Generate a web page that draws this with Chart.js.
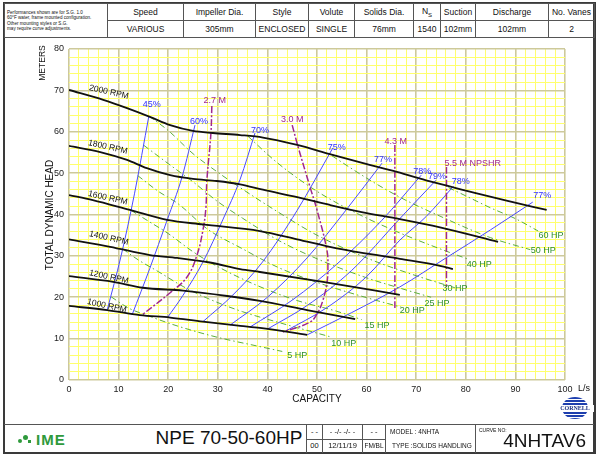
<!DOCTYPE html>
<html>
<head>
<meta charset="utf-8">
<script src="https://cdn.jsdelivr.net/npm/chart.js@4.4.0/dist/chart.umd.min.js"></script>
<style>
  body { margin: 0; width: 600px; height: 457px; position: relative; overflow: hidden; background: #fff;
         font-family: "Liberation Sans", Arial, sans-serif; color: #111; }
  .abs { position: absolute; }
  #frame { left: 3px; top: 2px; width: 593px; height: 452px; box-sizing: border-box;
           border: 2px solid #3a3a3a; border-right-width: 3px; }
  table { border-collapse: collapse; }
  #head { left: 4px; top: 3px; width: 590px; height: 35px; table-layout: fixed; }
  #head td { border: 1px solid #555; text-align: center; font-size: 8.5px; padding: 0; height: 16px; }
  #head td.note { text-align: left; font-size: 4.6px; line-height: 5.2px; padding-left: 2px; vertical-align: middle; }
  #foot { left: 4px; top: 424px; width: 590px; height: 28px; border-top: 1px solid #555; }
  .cell { position: absolute; top: 0; height: 28px; border-left: 1px solid #555; box-sizing: border-box; }
  .half { position: absolute; left: 0; right: 0; height: 14px; font-size: 7.5px; text-align: center; line-height: 14px; }
  #wrap { left: 5px; top: 38px; width: 589px; height: 385px; }
</style>
</head>
<body>
<div id="frame" class="abs"></div>

<table id="head" class="abs">
  <colgroup>
    <col style="width:103px"><col style="width:76px"><col style="width:72px"><col style="width:53px">
    <col style="width:46px"><col style="width:59px"><col style="width:27px"><col style="width:35px">
    <col style="width:73px"><col style="width:46px">
  </colgroup>
  <tr>
    <td class="note" rowspan="2">Performances shown are for S.G. 1.0<br>60°F water, frame mounted configuration.<br>Other mounting styles or S.G.<br>may require curve adjustments.</td>
    <td>Speed</td><td>Impeller Dia.</td><td>Style</td><td>Volute</td><td>Solids Dia.</td>
    <td>N<sub style="font-size:6px">S</sub></td><td>Suction</td><td>Discharge</td><td>No. Vanes</td>
  </tr>
  <tr>
    <td>VARIOUS</td><td>305mm</td><td>ENCLOSED</td><td>SINGLE</td><td>76mm</td>
    <td>1540</td><td>102mm</td><td>102mm</td><td>2</td>
  </tr>
</table>

<div id="wrap" class="abs"><canvas id="pumpChart" width="589" height="385"></canvas></div>

<div class="abs" style="width:60px;height:12px;font-size:8.5px;text-align:center;transform:rotate(-90deg);transform-origin:center;left:13px;top:57px">METERS</div>
<div class="abs" style="left:-20px;top:209px;width:140px;height:12px;font-size:10px;text-align:center;transform:rotate(-90deg)">TOTAL DYNAMIC HEAD</div>
<div class="abs" style="left:267px;top:393px;width:100px;font-size:10px;text-align:center">CAPACITY</div>
<div class="abs" style="left:578px;top:383px;font-size:9px">L/s</div>

<!-- cornell badge -->
<div class="abs" style="left:562px;top:397px;width:26px;height:22px;border-radius:50%;
     background:repeating-linear-gradient(#1e3fae 0 2px,#fff 2px 3px);"></div>
<div class="abs" style="left:556px;top:405px;width:38px;height:7px;background:#fff;font:bold 6px 'Liberation Serif',serif;color:#1a2f80;text-align:center;line-height:7px">CORNELL</div>

<div id="foot" class="abs">
  <div class="abs" style="left:14px;top:6px;width:50px;height:18px">
    <div class="abs" style="left:0;top:8px;width:4px;height:4px;border-radius:50%;background:#2f9a3c"></div>
    <div class="abs" style="left:5px;top:4px;width:5px;height:5px;border-radius:50%;background:#2f9a3c"></div>
    <div class="abs" style="left:10px;top:9px;width:3px;height:3px;background:#2f9a3c"></div>
    <div class="abs" style="left:18px;top:0;font:bold 15px 'Liberation Sans',Arial;color:#2f9a3c;letter-spacing:1px">IME</div>
  </div>
  <div class="abs" style="left:150px;top:2px;width:150px;text-align:center;font-size:19px">NPE 70-50-60HP</div>
  <div class="cell" style="left:302px;width:16px">
    <div class="half" style="top:0;border-bottom:1px solid #555">- -</div><div class="half" style="top:14px">00</div>
  </div>
  <div class="cell" style="left:318px;width:40px">
    <div class="half" style="top:0;border-bottom:1px solid #555">- -/- -/- -</div><div class="half" style="top:14px">12/11/19</div>
  </div>
  <div class="cell" style="left:358px;width:23px">
    <div class="half" style="top:0;border-bottom:1px solid #555">- -</div><div class="half" style="top:14px;font-size:6.5px">FM/BL</div>
  </div>
  <div class="cell" style="left:381px;width:90px">
    <div class="half" style="top:0;text-align:left;padding-left:4px;font-size:6.5px">MODEL : 4NHTA</div>
    <div class="half" style="top:14px;text-align:left;padding-left:6px;font-size:6.5px">TYPE :SOLIDS HANDLING</div>
  </div>
  <div class="cell" style="left:471px;width:119px">
    <div class="abs" style="left:3px;top:2px;font-size:5px">CURVE NO:</div>
    <div class="abs" style="right:8px;top:5px;font-size:19px">4NHTAV6</div>
  </div>
</div>

<script>
// head-capacity curves [L/s, m]
const rpm2000 = [[0,70.1],[6.9,67.7],[11.7,65.7],[16.3,63.6],[20.4,61.6],[25,60.2],[29,59.7],[34.5,59.2],[39.1,58.6],[46,56.8],[52.6,54.6],[59.3,52.4],[66.1,50.3],[72.8,48.0],[80,45.8],[88,43.4],[96.3,41.1]];
const rpm1800 = [[0,56.6],[6.3,55.1],[11.7,53.2],[15.7,51.2],[20.4,49.5],[25,48.6],[29.8,48.1],[34.5,47.3],[39.1,46.0],[46,44.2],[52.6,42.3],[59,40.6],[66.7,38.9],[74.8,36.9],[86.5,33.4]];
const rpm1600 = [[0,44.7],[4.8,43.5],[12.3,41.1],[19.8,38.7],[27,37.6],[38.5,36.0],[46,34.0],[54,31.8],[66.7,29.3],[74.8,27.6],[77.4,26.8]];
const rpm1400 = [[0,34.0],[8.3,32.2],[16.3,30.2],[21.8,29.5],[28.4,28.4],[34.5,26.8],[38.5,26.1],[51.2,23.7],[66.7,20.6]];
const rpm1200 = [[0,25.1],[8.9,23.7],[14.9,22.3],[23,21.6],[31.9,20.3],[38.5,19.1],[48,16.9],[57.7,14.7]];
const rpm1000 = [[0,17.9],[7.7,16.9],[14.3,15.7],[20.4,15.1],[27,14.1],[34.5,13.1],[38.5,12.6],[48,10.9]];
const rpmLabels = ["2000 RPM","1800 RPM","1600 RPM","1400 RPM","1200 RPM","1000 RPM"];
const rpmLabelAt = [[4.4,69.6],[4.2,56.3],[4.2,44.0],[4.4,34.3],[4.4,24.9],[4.0,17.9]];

// efficiency lines
const eff45 = [[7.7,16.9],[10.5,30],[13.2,45],[16.1,63.8]];
const eff60 = [[12.7,15.7],[16.3,27],[19.8,38.7],[22.8,49.1],[25.4,61.6]];
const eff70 = [[19.8,15],[23,20.5],[27,28.5],[31,38.7],[34.5,48.5],[37.5,59.7]];
const eff75 = [[27,14.1],[33,20.5],[39,28.5],[46,41],[53.2,56.1]];
const eff77a = [[32.5,13.3],[40,20],[48,29.5],[56,41.3],[63.1,52.4]];
const eff78a = [[36.5,12.8],[45,19.3],[54,28],[63,38.5],[71,49.5]];
const eff79 = [[40,12.3],[48,18],[57,26.5],[66.7,39],[74,48.3]];
const eff78b = [[43.5,11.7],[52,17.5],[60,25],[66.7,33.8],[72,39.5],[77.5,46.8]];
const eff77b = [[48,10.9],[57,16.3],[66.7,22.5],[76,29.5],[85,36.3],[93.5,43]];
const effLabels = ["45%","60%","70%","75%","77%","78%","79%","78%","77%"];
const effLabelAt = [[16.7,66.5],[26.2,62.4],[38.5,60.4],[54,56.3],[63.3,53.2],[71.2,50.3],[74.2,49.3],[79,47.9],[95.4,44.5]];

// NPSHR lines
const npsh27 = [[28.8,66.2],[28.6,59.4],[27.8,48.3],[27.6,41.6],[27,36.2],[25.8,30.2],[23.8,24.9],[20.4,21.1],[14.7,15.7]];
const npsh30 = [[45,61.6],[46.2,56.3],[48.6,46.6],[50,41.1],[52,31.4],[52.2,27.3],[52,23.4],[51.2,19.3],[50.2,16.4],[48.6,14],[43.1,11.6]];
const npsh43 = [[65.7,56.8],[65.7,16.9]];
const npsh55 = [[76.1,51.5],[76.1,22.5]];
const npshLabels = ["2.7 M","3.0 M","4.3 M","5.5 M NPSHR"];
const npshLabelAt = [[29.4,67.6],[45,62.9],[65.9,57.7],[81.4,52.3]];

// power lines
const hp60 = [[76.5,46.5],[80,44.5],[85,41.6],[90,39],[94.6,36]];
const hp50 = [[53,54.2],[60,48.8],[67,44],[74.8,39.6],[85,34.4],[93,31.5]];
const hp40 = [[36,59],[42,52.5],[50,45.6],[58,40.3],[66,35.9],[74.8,31.7],[80.5,29.2]];
const hp30 = [[16.1,63.8],[20,60.3],[25,54.7],[30,50.2],[34.5,46.5],[42,40.7],[50,35],[60,29.5],[70,25.2],[77.8,22.3]];
const hp25 = [[15.1,56.7],[20,52.3],[25,47.9],[30,43.1],[35,39.1],[42,33.9],[50,29.3],[60,24.7],[67,22.1],[73,20]];
const hp20 = [[13.85,49.4],[18,45.6],[22,42.6],[28,36.4],[35,31.7],[42,27.3],[50,23.6],[60,19.9],[67,17.6]];
const hp15 = [[12.5,41],[16,38.4],[20,35.4],[25,31],[30,27.4],[38,22.8],[46,19.2],[54,16.6],[59,14.6]];
const hp10 = [[10.8,31.7],[14,29],[18,26.2],[23,22.6],[28,19.7],[35,16.5],[42,14],[52.5,10.5]];
const hp5 = [[8.5,20.1],[12,17.4],[16,15.5],[22,13],[30,10.3],[38,8.2],[43,6.9]];
const hpLabels = ["60 HP","50 HP","40 HP","30 HP","25 HP","20 HP","15 HP","10 HP","5 HP"];
const hpLabelAt = [[97.2,34.8],[95.6,31.2],[82.7,27.8],[77.8,22],[74.2,18.4],[69.2,16.7],[62.1,13.1],[55.4,8.9],[46,6]];

const MAJOR = "#cdc99b";
const MINOR = "#ffff6e";
const BLUE = "#4a4aff";
const PURPLE = "#a0288f";
const GREEN = "#5aae3c";

const pts = arr => arr.map(([x, y]) => ({ x, y }));

function line(arr, color, width, extra) {
  return Object.assign({
    data: pts(arr), showLine: true, borderColor: color, borderWidth: width,
    pointRadius: 0, fill: false, cubicInterpolationMode: "monotone"
  }, extra || {});
}

const datasets = [];
[rpm2000, rpm1800, rpm1600, rpm1400, rpm1200, rpm1000].forEach(c => datasets.push(line(c, "#111", 1.8, { order: 0 })));
[eff45, eff60, eff70, eff75, eff77a, eff78a, eff79, eff78b, eff77b].forEach(c => datasets.push(line(c, BLUE, 1, { order: 2 })));
[hp60, hp50, hp40, hp30, hp25, hp20, hp15, hp10, hp5].forEach(c => datasets.push(line(c, GREEN, 1, { order: 3, borderDash: [6, 3, 1.5, 3] })));
[npsh27, npsh30].forEach(c => datasets.push(line(c, PURPLE, 1.5, { order: 1, borderDash: [7, 2, 2, 2], cubicInterpolationMode: "default", tension: 0.4 })));
[npsh43, npsh55].forEach(c => datasets.push(line(c, PURPLE, 1.5, { order: 1, borderDash: [7, 2, 2, 2] })));

const labelPlugin = {
  id: "curveLabels",
  afterDatasetsDraw(chart) {
    const { ctx, scales: { x, y } } = chart;
    ctx.save();
    ctx.textAlign = "center";
    ctx.textBaseline = "middle";

    ctx.fillStyle = "#111";
    ctx.font = "8.5px 'Liberation Sans', Arial";
    rpmLabels.forEach((t, i) => {
      const px = x.getPixelForValue(rpmLabelAt[i][0]) + 18;
      const py = y.getPixelForValue(rpmLabelAt[i][1]);
      ctx.save();
      ctx.translate(px, py);
      ctx.rotate(0.22);
      ctx.fillText(t, 0, 0);
      ctx.restore();
    });

    ctx.fillStyle = "#2f2fff";
    ctx.font = "9px 'Liberation Sans', Arial";
    effLabels.forEach((t, i) => ctx.fillText(t, x.getPixelForValue(effLabelAt[i][0]), y.getPixelForValue(effLabelAt[i][1])));

    ctx.fillStyle = PURPLE;
    npshLabels.forEach((t, i) => ctx.fillText(t, x.getPixelForValue(npshLabelAt[i][0]), y.getPixelForValue(npshLabelAt[i][1])));

    ctx.fillStyle = "#2f8f2f";
    hpLabels.forEach((t, i) => ctx.fillText(t, x.getPixelForValue(hpLabelAt[i][0]), y.getPixelForValue(hpLabelAt[i][1])));
    ctx.restore();
  }
};

const gridOpts = {
  color: c => (c.tick.value % 10 === 0 ? MAJOR : MINOR),
  lineWidth: c => (c.tick.value % 10 === 0 ? 1.6 : 1),
  drawTicks: false
};

new Chart(document.getElementById("pumpChart"), {
  type: "scatter",
  data: { datasets },
  options: {
    responsive: false,
    animation: false,
    layout: { padding: { left: 34, right: 29, top: 11, bottom: 0 } },
    plugins: { legend: { display: false }, tooltip: { enabled: false } },
    scales: {
      x: {
        type: "linear", min: 0, max: 100,
        ticks: { stepSize: 2, autoSkip: false, maxRotation: 0, padding: 4, color: "#222",
                 font: { size: 9, family: "'Liberation Sans', Arial" },
                 callback: v => (v % 10 === 0 ? v : "") },
        grid: gridOpts,
        border: { display: false },
        afterFit: s => { s.height = 43; }
      },
      y: {
        type: "linear", min: 0, max: 80,
        ticks: { stepSize: 2, autoSkip: false, padding: 5, color: "#222",
                 font: { size: 9, family: "'Liberation Sans', Arial" },
                 callback: v => (v % 10 === 0 ? v : "") },
        grid: gridOpts,
        border: { display: false },
        afterFit: s => { s.width = 30; }
      }
    }
  },
  plugins: [labelPlugin]
});
</script>
</body>
</html>
